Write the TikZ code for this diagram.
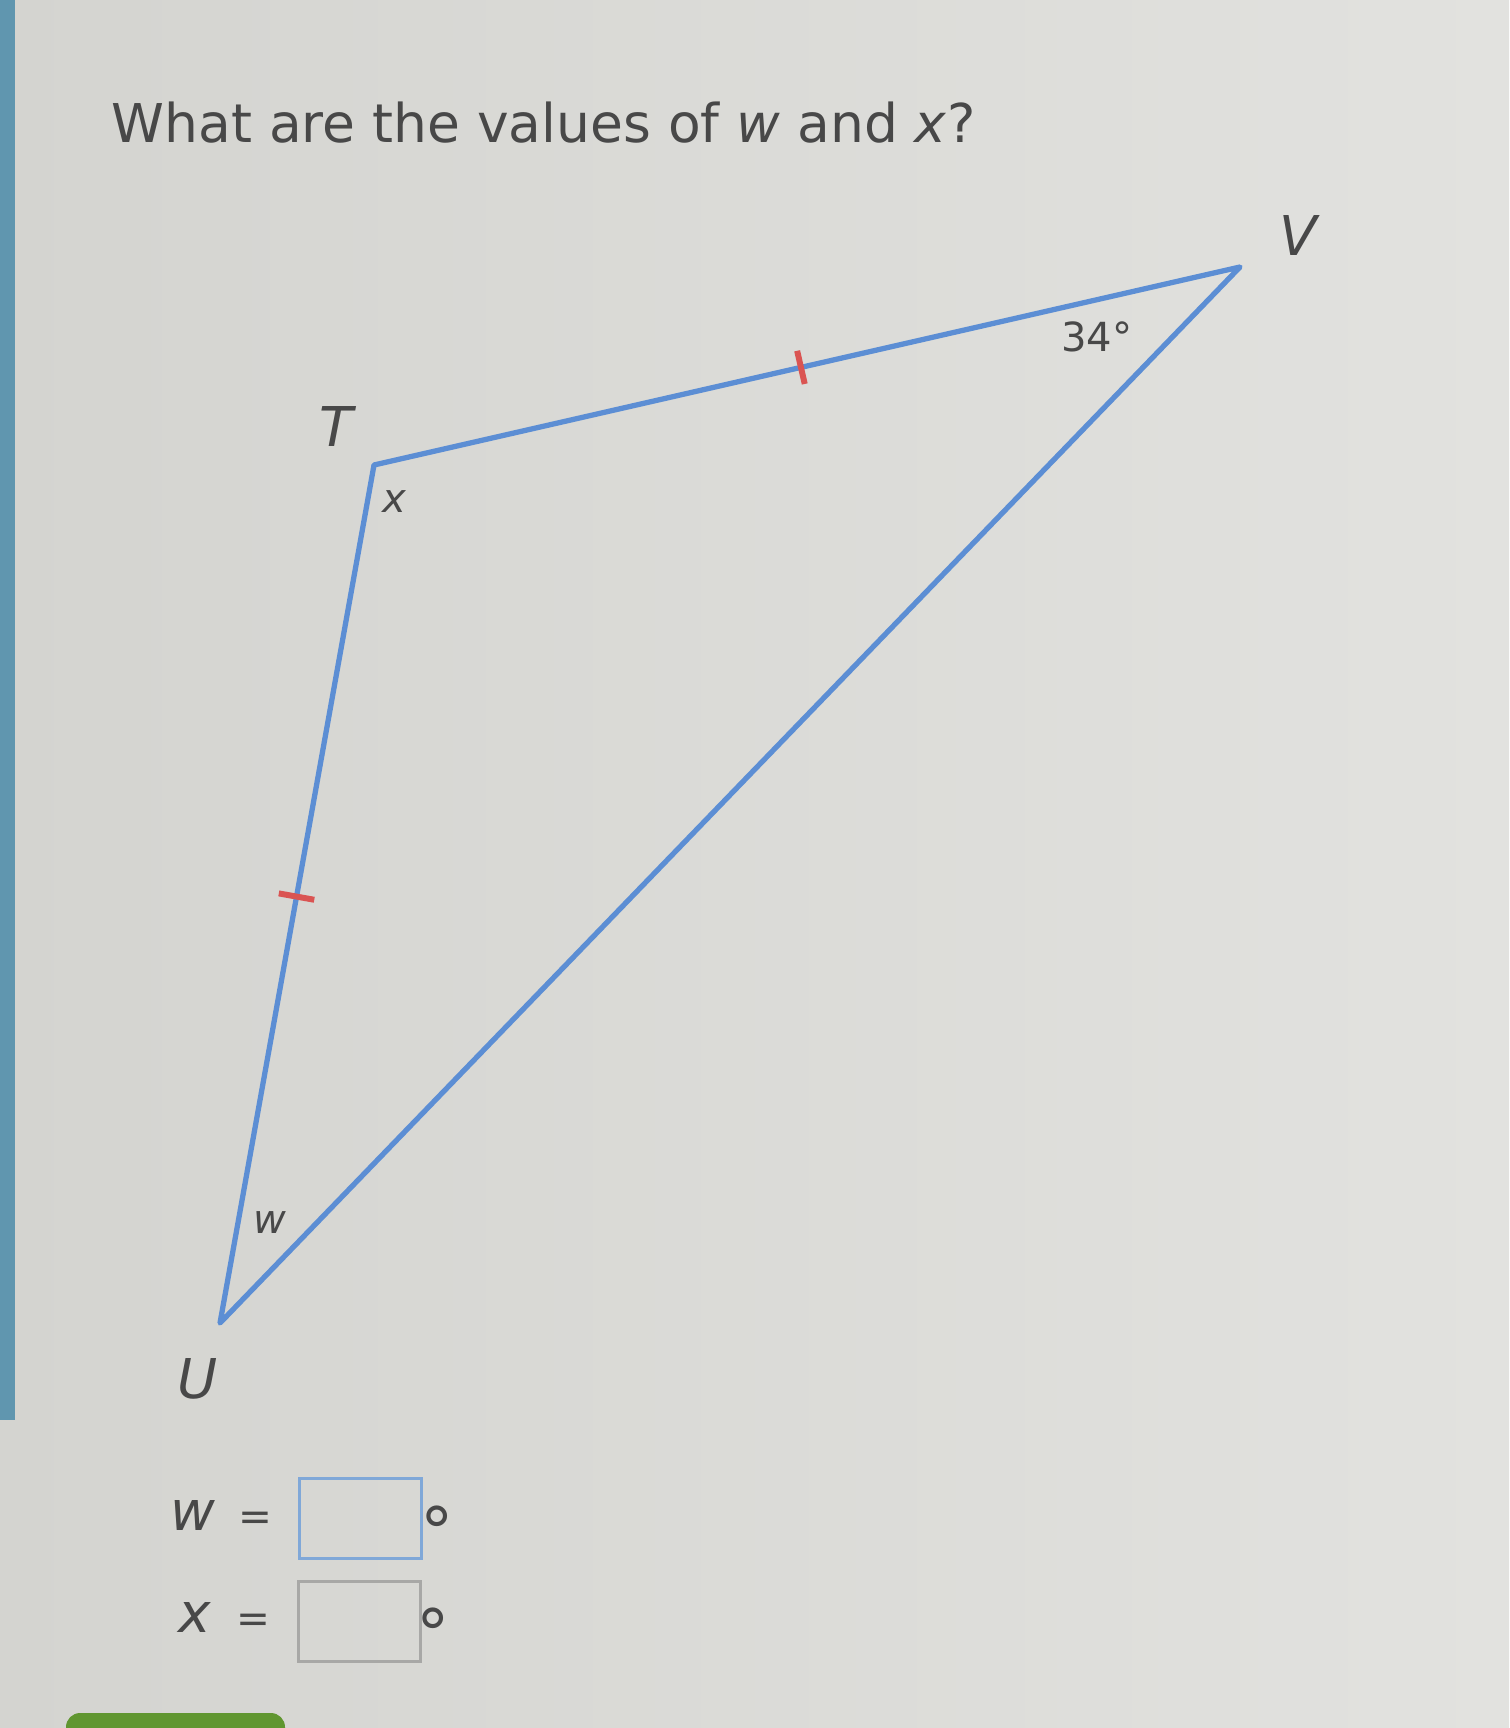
\documentclass[tikz,border=0pt]{standalone}
\usepackage{fontspec}
\setmainfont{DejaVu Sans}
\usetikzlibrary{calc}

\definecolor{screen}{RGB}{212,212,208}
\definecolor{screenr}{RGB}{226,226,223}
\definecolor{edgeblue}{RGB}{92,142,212}
\definecolor{tickred}{RGB}{218,84,82}
\definecolor{ink}{RGB}{72,72,72}
\definecolor{focusblue}{RGB}{128,168,216}
\definecolor{boxgray}{RGB}{168,168,166}
\definecolor{barblue}{RGB}{96,150,175}
\definecolor{bargreen}{RGB}{96,150,48}

\tikzset{
  side/.style={draw=edgeblue, line width=1.5pt, line join=round},
  tickmark/.style={draw=tickred, line width=1.7pt},
  vlabel/.style={text=ink, anchor=base, inner sep=0pt, font=\fontsize{15.6}{18}\selectfont\itshape},
  alabel/.style={text=ink, anchor=base, inner sep=0pt, font=\fontsize{11.4}{14}\selectfont},
  answerbox/.style={draw=#1, line width=0.9pt, inner sep=0pt, minimum width=1.22cm, minimum height=0.8cm},
  rowtext/.style={text=ink, anchor=base, inner sep=0pt, font=\fontsize{15.6}{18}\selectfont}
}

\begin{document}
\begin{tikzpicture}[x=0.01cm, y=-0.01cm]
  \useasboundingbox (0,0) rectangle (1509,1728);
  \fill[left color=screen, right color=screenr] (0,0) rectangle (1509,1728);
  \fill[barblue] (0,0) rectangle (15,1420);
  \fill[bargreen, rounded corners=4pt] (66,1713) rectangle (285,1760);

  \node[text=ink, anchor=base west, inner sep=0pt, font=\fontsize{15.2}{18}\selectfont]
    (question) at (111,143) {What are the values of \textit{w} and \textit{x}?};

  \coordinate (T) at (374,465);
  \coordinate (U) at (220,1323);
  \coordinate (V) at (1240,267);

  \draw[side] (T) -- (V) -- (U) -- cycle;

  \draw[tickmark] ($(T)!0.493!(V)!0.17cm!90:(V)$) -- ($(T)!0.493!(V)!0.17cm!-90:(V)$);
  \draw[tickmark] ($(T)!0.503!(U)!0.18cm!90:(U)$) -- ($(T)!0.503!(U)!0.18cm!-90:(U)$);

  \node[vlabel] (labV) at (1298,256) {V};
  \node[vlabel] (labT) at (336,447) {T};
  \node[vlabel] (labU) at (198,1398) {U};

  \node[alabel, font=\fontsize{11.4}{14}\selectfont\itshape] (angx) at (394,513) {x};
  \node[alabel, font=\fontsize{11.4}{14}\selectfont\itshape] (angw) at (270,1233) {w};
  \node[alabel] (angV) at (1097,352) {34°};

  \node[rowtext, font=\fontsize{15.6}{18}\selectfont\itshape] (wvar) at (193,1530) {w};
  \node[rowtext, font=\fontsize{11.5}{14}\selectfont] (weq) at (255,1530) {=};
  \node[answerbox=focusblue, anchor=north west] (wbox) at (298,1477) {};
  \node[rowtext, font=\fontsize{19}{20}\selectfont] (wdeg) at (437,1555) {°};

  \node[rowtext, font=\fontsize{15.6}{18}\selectfont\itshape] (xvar) at (195,1632) {x};
  \node[rowtext, font=\fontsize{11.5}{14}\selectfont] (xeq) at (253,1632) {=};
  \node[answerbox=boxgray, anchor=north west] (xbox) at (297,1580) {};
  \node[rowtext, font=\fontsize{19}{20}\selectfont] (xdeg) at (433,1657) {°};
\end{tikzpicture}
\end{document}
